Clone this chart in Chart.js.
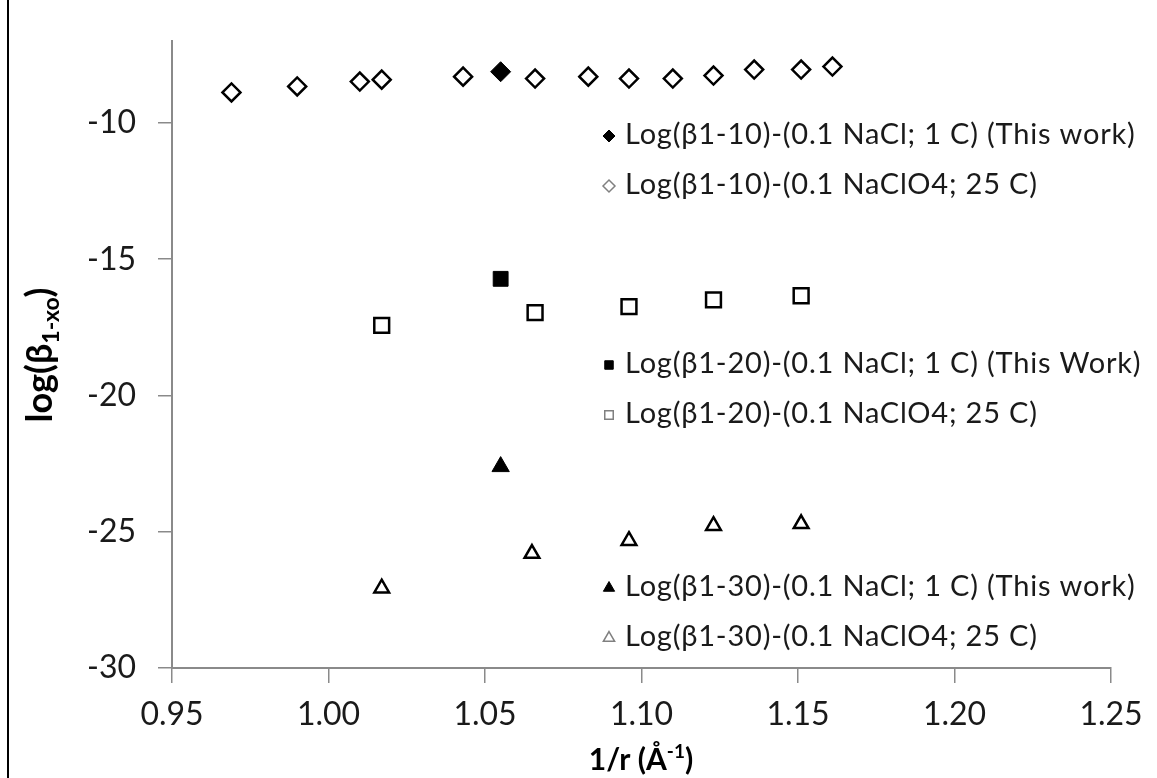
<!DOCTYPE html>
<html>
<head>
<meta charset="utf-8">
<script src="https://cdn.jsdelivr.net/npm/chart.js@4.4.1/dist/chart.umd.min.js"></script>
<style>
    body { margin: 0; background: #fff; }
    #wrap { position: relative; width: 1157px; height: 778px; }
</style>
</head>
<body>
<div id="wrap"><canvas id="chart"></canvas></div>
<script>
// x = 1/r (Å-1), y = log(beta)
let xNaCl10 = [1.055];
let yNaCl10 = [-8.12];
let xNaClO4_10 = [0.969, 0.990, 1.010, 1.017, 1.043, 1.066, 1.083, 1.096, 1.110, 1.123, 1.136, 1.151, 1.161];
let yNaClO4_10 = [-8.88, -8.66, -8.48, -8.41, -8.30, -8.37, -8.30, -8.37, -8.37, -8.26, -8.04, -8.04, -7.93];

let xNaCl20 = [1.055];
let yNaCl20 = [-15.72];
let xNaClO4_20 = [1.017, 1.066, 1.096, 1.123, 1.151];
let yNaClO4_20 = [-17.43, -16.96, -16.74, -16.49, -16.34];

let xNaCl30 = [1.055];
let yNaCl30 = [-22.61];
let xNaClO4_30 = [1.017, 1.065, 1.096, 1.123, 1.151];
let yNaClO4_30 = [-27.07, -25.80, -25.33, -24.78, -24.71];

let seriesLabels = [
    'Log(β1-10)-(0.1 NaCl; 1 C) (This work)',
    'Log(β1-10)-(0.1 NaClO4; 25 C)',
    'Log(β1-20)-(0.1 NaCl; 1 C) (This Work)',
    'Log(β1-20)-(0.1 NaClO4; 25 C)',
    'Log(β1-30)-(0.1 NaCl; 1 C) (This work)',
    'Log(β1-30)-(0.1 NaClO4; 25 C)'
];

let xTicks = [0.95, 1.00, 1.05, 1.10, 1.15, 1.20, 1.25];
let yTicks = [-30, -25, -20, -15, -10];

// legend row positions (pixels), one per series
let legendRows = [135, 185, 364, 414, 587, 637];

let points = function (xs, ys) {
    return xs.map((x, i) => ({ x: x, y: ys[i] }));
}

let filled = function (label, xs, ys, style, r) {
    return {
        label: label, data: points(xs, ys), pointStyle: style, pointRadius: r,
        backgroundColor: '#000', borderColor: '#000', borderWidth: 1, showLine: false
    };
}

let open = function (label, xs, ys, style, r) {
    return {
        label: label, data: points(xs, ys), pointStyle: style, pointRadius: r,
        backgroundColor: 'rgba(0,0,0,0)', borderColor: '#000', borderWidth: 2.5, showLine: false
    };
}

let datasets = [
    filled(seriesLabels[0], xNaCl10, yNaCl10, 'rectRot', 10),
    open(seriesLabels[1], xNaClO4_10, yNaClO4_10, 'rectRot', 9),
    filled(seriesLabels[2], xNaCl20, yNaCl20, 'rect', 10.5),
    open(seriesLabels[3], xNaClO4_20, yNaClO4_20, 'rect', 10.5),
    filled(seriesLabels[4], xNaCl30, yNaCl30, 'triangle', 10),
    open(seriesLabels[5], xNaClO4_30, yNaClO4_30, 'triangle', 8.5)
];

// draws a row of text parts (for sub/superscripts), centred on x
let drawParts = function (ctx, parts, x, y) {
    let total = 0;
    parts.forEach(p => { ctx.font = p.font; total += ctx.measureText(p.t).width; });
    let cx = x - total / 2;
    parts.forEach(p => {
        ctx.font = p.font;
        ctx.fillText(p.t, cx, y + p.dy);
        cx += ctx.measureText(p.t).width;
    });
}

const extras = {
    id: 'extras',
    afterDraw(chart) {
        const ctx = chart.ctx;
        ctx.save();

        // left frame line
        ctx.fillStyle = '#000';
        ctx.fillRect(7, 0, 2, chart.height);

        // legend
        ctx.textBaseline = 'middle';
        ctx.textAlign = 'left';
        chart.data.datasets.forEach((ds, i) => {
            let y = legendRows[i];
            let isOpen = i % 2 === 1;
            ctx.fillStyle = isOpen ? 'rgba(0,0,0,0)' : '#000';
            ctx.strokeStyle = isOpen ? '#808080' : '#000';
            ctx.lineWidth = isOpen ? 1.5 : 1;
            let r = ds.pointStyle === 'triangle' ? 6.5 : 6;
            Chart.helpers.drawPoint(ctx, { pointStyle: ds.pointStyle, radius: r, borderWidth: ctx.lineWidth }, 609, y + 1);
            ctx.fillStyle = '#1a1a1a';
            ctx.font = '29px Lato';
            ctx.letterSpacing = '0.8px';
            ctx.fillText(ds.label, 625, y);
            ctx.letterSpacing = '0px';
        });

        // axis titles
        ctx.fillStyle = '#000';
        ctx.textBaseline = 'alphabetic';
        drawParts(ctx, [
            { t: '1/r (Å', font: 'bold 30px Lato', dy: 0 },
            { t: '-1', font: 'bold 19px Lato', dy: -12 },
            { t: ')', font: 'bold 30px Lato', dy: 0 }
        ], 641, 770);

        ctx.translate(52, 355);
        ctx.rotate(-Math.PI / 2);
        drawParts(ctx, [
            { t: 'log(β', font: 'bold 36px Lato', dy: 0 },
            { t: '1-xo', font: 'bold 23px Lato', dy: 7 },
            { t: ')', font: 'bold 36px Lato', dy: 0 }
        ], 0, 0);

        ctx.restore();
    }
};

const tickFont = { family: 'Lato', size: 32 };

new Chart(document.getElementById('chart'), {
    type: 'scatter',
    data: { datasets: datasets },
    options: {
        responsive: true,
        maintainAspectRatio: false,
        animation: false,
        layout: { padding: { top: 33, right: 46, left: 0, bottom: 0 } },
        plugins: { legend: { display: false }, tooltip: { enabled: false } },
        scales: {
            x: {
                type: 'linear',
                min: 0.95,
                max: 1.25,
                afterBuildTicks: s => { s.ticks = xTicks.map(v => ({ value: v })); },
                afterFit: s => { s.height = 110; },
                ticks: {
                    callback: v => v.toFixed(2),
                    font: tickFont, color: '#1a1a1a', padding: 12,
                    maxRotation: 0, autoSkip: false
                },
                grid: { drawOnChartArea: false, drawTicks: true, tickLength: 15, color: '#8a8a8a', lineWidth: 1.5 },
                border: { color: '#8a8a8a', width: 2 }
            },
            y: {
                type: 'linear',
                min: -30,
                max: -7,
                afterBuildTicks: s => { s.ticks = yTicks.map(v => ({ value: v })); },
                afterFit: s => { s.width = 172; },
                ticks: { font: tickFont, color: '#1a1a1a', padding: 22 },
                grid: { drawOnChartArea: false, drawTicks: true, tickLength: 14, color: '#8a8a8a', lineWidth: 1.5 },
                border: { color: '#8a8a8a', width: 2 }
            }
        }
    },
    plugins: [extras]
});
</script>
</body>
</html>
